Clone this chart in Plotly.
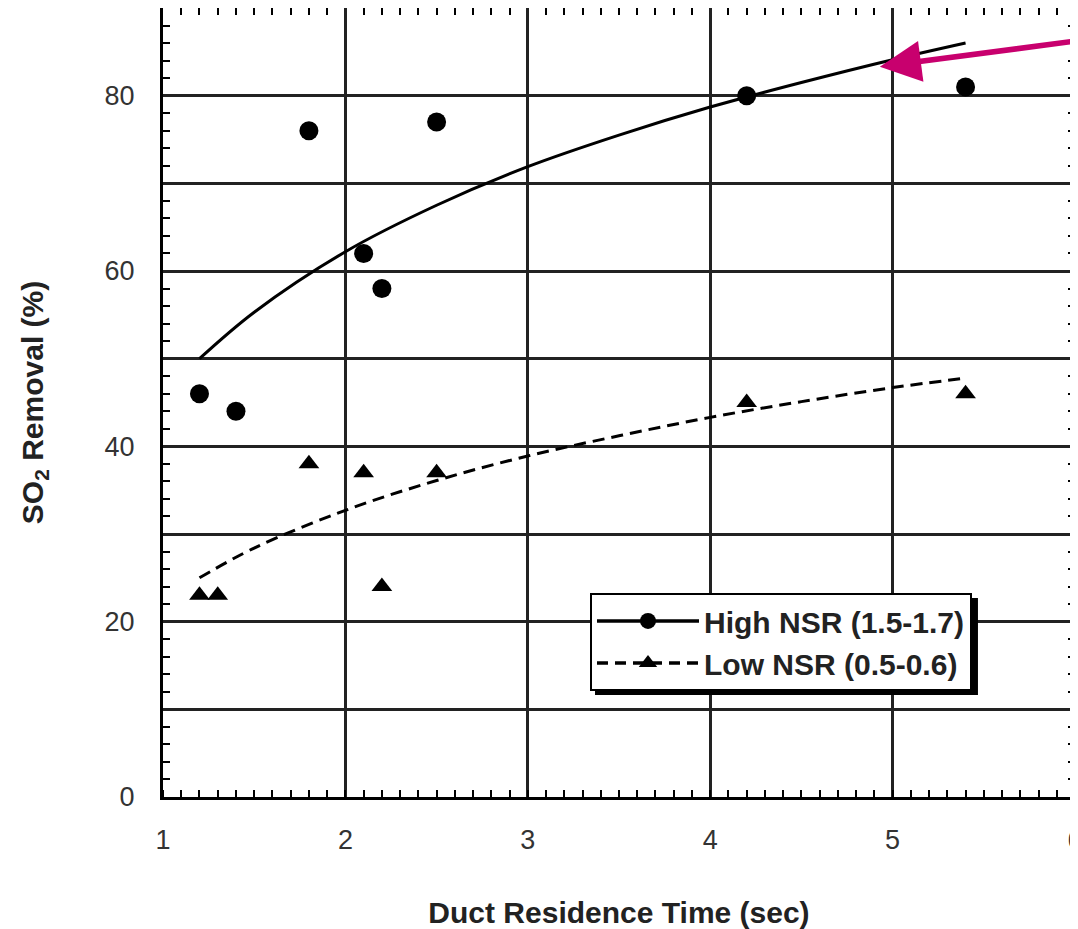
import plotly.graph_objects as go

# Measured data
high_x = [1.2, 1.4, 1.8, 2.1, 2.2, 2.5, 4.2, 5.4]
high_y = [46, 44, 76, 62, 58, 77, 80, 81]
low_x = [1.2, 1.3, 1.8, 2.1, 2.2, 2.5, 4.2, 5.4]
low_y = [23, 23, 38, 37, 24, 37, 45, 46]

# Fitted curves
high_fit_x = [1.2, 1.5, 2.0, 2.5, 3.0, 3.5, 4.0, 4.5, 5.0, 5.4]
high_fit_y = [50.0, 55.3, 62.2, 67.5, 71.9, 75.5, 78.7, 81.5, 84.1, 86.0]
low_fit_x = [1.2, 1.5, 2.0, 2.5, 3.0, 3.5, 4.0, 4.5, 5.0, 5.37]
low_fit_y = [25.0, 28.4, 32.7, 36.1, 38.9, 41.2, 43.3, 45.1, 46.7, 47.7]

y_tickvals = [0, 20, 40, 60, 80]
y_ticktext = ["0", "20", "40", "60", "80"]
x_tickvals = [1, 2, 3, 4, 5, 6]
x_ticktext = ["1", "2", "3", "4", "5", "6"]

legend_names = ["High NSR (1.5-1.7)", "Low NSR (0.5-0.6)"]

FONT = "Liberation Sans, Arial, sans-serif"

fig = go.Figure()

fig.add_trace(go.Scatter(x=high_fit_x, y=high_fit_y, mode="lines",
                         line=dict(color="black", width=3, shape="spline"),
                         showlegend=False, hoverinfo="skip"))
fig.add_trace(go.Scatter(x=low_fit_x, y=low_fit_y, mode="lines",
                         line=dict(color="black", width=3, dash="12px,7px", shape="spline"),
                         showlegend=False, hoverinfo="skip"))
fig.add_trace(go.Scatter(x=high_x, y=high_y, mode="markers",
                         marker=dict(symbol="circle", size=19, color="black"),
                         showlegend=False))
fig.add_trace(go.Scatter(x=low_x, y=low_y, mode="markers",
                         marker=dict(symbol="triangle-up", size=18, color="black"),
                         showlegend=False))
# legend entries
fig.add_trace(go.Scatter(x=[None], y=[None], mode="lines+markers", name=legend_names[0],
                         line=dict(color="black", width=3.5),
                         marker=dict(symbol="circle", size=17, color="black")))
fig.add_trace(go.Scatter(x=[None], y=[None], mode="lines+markers", name=legend_names[1],
                         line=dict(color="black", width=3.5, dash="11px,7px"),
                         marker=dict(symbol="triangle-up", size=17, color="black")))

axis_common = dict(
    showline=True, linecolor="black", linewidth=3, mirror=True,
    showgrid=True, gridcolor="#222", gridwidth=2.5,
    ticks="", zeroline=False, automargin=False,
    ticklabeloverflow="allow",
    tickfont=dict(family=FONT, size=27, color="#333"),
)

fig.update_xaxes(
    range=[1, 6], tickmode="array", tickvals=x_tickvals, ticktext=x_ticktext,
    minor=dict(dtick=0.1, ticks="inside", ticklen=7, tickwidth=2, tickcolor="black", showgrid=False),
    ticklabelstandoff=17,
    title=dict(text="Duct Residence Time (sec)", standoff=48,
               font=dict(family=FONT, size=30, color="#222", weight="bold")),
    **axis_common,
)
fig.update_yaxes(
    range=[0, 90], tickmode="array", tickvals=y_tickvals, ticktext=y_ticktext,
    minor=dict(dtick=10, ticks="", showgrid=True, gridcolor="#222", gridwidth=2.5),
    ticklabelstandoff=20,
    title=dict(text="SO<sub>2</sub> Removal (%)", standoff=53,
               font=dict(family=FONT, size=30, color="#222", weight="bold")),
    **axis_common,
)

# minor ticks on the top, left and right borders
fig.update_layout(
    xaxis2=dict(overlaying="x", side="top", range=[1, 6], showgrid=False, zeroline=False,
                showticklabels=False, ticks="", automargin=False,
                minor=dict(dtick=0.1, ticks="inside", ticklen=7, tickwidth=2, tickcolor="black")),
    yaxis2=dict(overlaying="y", side="right", range=[0, 90], showgrid=False, zeroline=False,
                showticklabels=False, ticks="", automargin=False,
                minor=dict(dtick=2, ticks="inside", ticklen=7, tickwidth=2, tickcolor="black")),
    yaxis3=dict(overlaying="y", side="left", range=[0, 90], showgrid=False, zeroline=False,
                showticklabels=False, ticks="", automargin=False,
                minor=dict(dtick=2, ticks="inside", ticklen=7, tickwidth=2, tickcolor="black")),
)
fig.add_trace(go.Scatter(x=[None], y=[None], xaxis="x2", yaxis="y2", showlegend=False))
fig.add_trace(go.Scatter(x=[None], y=[None], xaxis="x", yaxis="y3", showlegend=False))

# legend shadow
fig.add_shape(type="rect", xref="paper", yref="paper",
              x0=0.4737, x1=0.8936, y0=0.1293, y1=0.2522,
              fillcolor="black", line=dict(width=0), layer="above")

fig.add_annotation(x=4.93, y=83.3, xref="x", yref="y", ax=220, ay=-26,
                   showarrow=True, arrowhead=2, arrowsize=1.5, arrowwidth=5.5,
                   arrowcolor="#c8006e", text="")

# the page body has an 8px margin, so the figure is sized to fit inside the window
fig.update_layout(
    width=1070, height=921,
    margin=dict(l=155, r=3, t=0, b=132, autoexpand=False),
    paper_bgcolor="white", plot_bgcolor="white",
    font=dict(family=FONT, color="#222"),
    legend=dict(x=0.4682, y=0.2586, xanchor="left", yanchor="top",
                bgcolor="white", bordercolor="black", borderwidth=2,
                itemwidth=102,
                font=dict(family=FONT, size=30, color="#222", weight="bold")),
)

fig.write_html("out.html")
